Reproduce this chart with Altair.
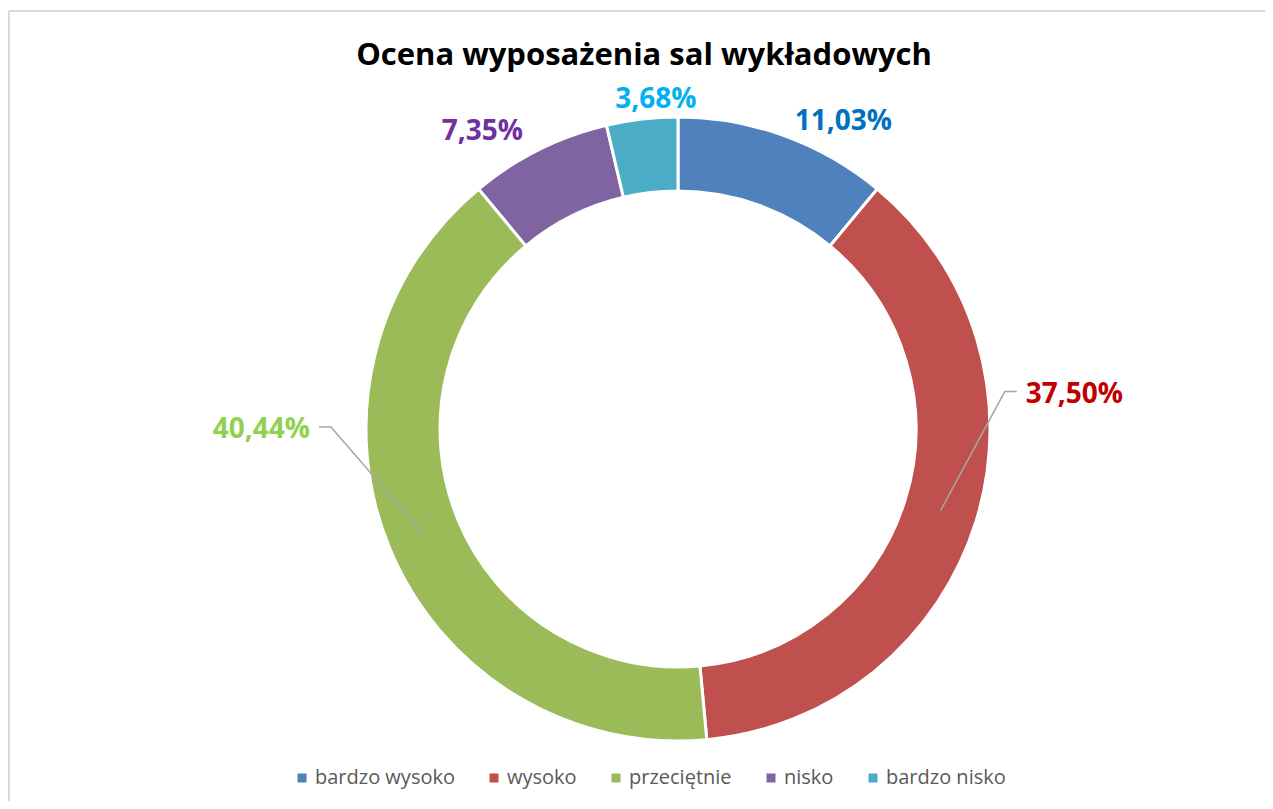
import math
import altair as alt
import pandas as pd

# ---- data ----
categories = ["bardzo wysoko", "wysoko", "przeciętnie", "nisko", "bardzo nisko"]
shares = [11.03, 37.50, 40.44, 7.35, 3.68]
labels = ["11,03%", "37,50%", "40,44%", "7,35%", "3,68%"]
title_text = "Ocena wyposażenia sal wykładowych"

# ---- styles / layout ----
slice_colors = ["#4F81BD", "#C0504D", "#9BBB59", "#8064A2", "#4BACC6"]
label_colors = ["#0070C0", "#C00000", "#92D050", "#7030A0", "#00B0F0"]
W, H = 1257, 793
CX, CY = 670, 421
R_OUT, R_IN = 312, 238
R_LAB = 340
# nudges of each label from the mid-angle point at R_LAB
nudge = {
    "bardzo wysoko": (50, 21, "center"),
    "wysoko": (23, -127, "left"),
    "przeciętnie": (-54, -121, "right"),
    "nisko": (-44, 15, "center"),
    "bardzo nisko": (17, 17, "center"),
}
leader = {"wysoko": -1, "przeciętnie": 1}
FONT = "Open Sans"

df = pd.DataFrame({"cat": categories, "share": shares, "label": labels,
                   "idx": range(len(categories)), "lcolor": label_colors})
tot = sum(shares)
cum = 0.0
mids = []
for s in shares:
    mids.append((cum + s / 2) / tot * 2 * math.pi)
    cum += s
df["mid"] = mids
df["px"] = CX + R_LAB * df["mid"].apply(math.sin)
df["py"] = CY - R_LAB * df["mid"].apply(math.cos)
df["lx"] = [px + nudge[c][0] for px, c in zip(df["px"], df["cat"])]
df["ly"] = [py + nudge[c][1] for py, c in zip(df["py"], df["cat"])]
df["align"] = [nudge[c][2] for c in df["cat"]]

# leader lines
rows = []
for _, r in df.iterrows():
    if r["cat"] in leader:
        sgn = leader[r["cat"]]
        rm = (R_OUT + R_IN) / 2
        x0 = CX + rm * math.sin(r["mid"])
        y0 = CY - rm * math.cos(r["mid"])
        xe = r["lx"] + sgn * 9
        ye = r["ly"] - 11
        xk = xe + sgn * 12
        rows += [dict(cat=r["cat"], o=0, x=x0, y=y0), dict(cat=r["cat"], o=1, x=xk, y=ye),
                 dict(cat=r["cat"], o=2, x=xe, y=ye)]
ldf = pd.DataFrame(rows)

base = alt.Chart(df)

arc = base.mark_arc(outerRadius=R_OUT, innerRadius=R_IN, stroke="white", strokeWidth=3).encode(
    theta=alt.Theta("share:Q", stack=True),
    order=alt.Order("idx:Q"),
    x=alt.value(CX), y=alt.value(CY),
    color=alt.Color("cat:N", sort=categories,
                    scale=alt.Scale(domain=categories, range=slice_colors),
                    legend=alt.Legend(title=None, orient="none", direction="horizontal",
                                      legendX=284, legendY=760, symbolType="square",
                                      symbolSize=81, symbolStrokeWidth=0,
                                      labelFont=FONT, labelFontSize=20, labelColor="#595959",
                                      labelOffset=3, columnPadding=29, symbolOffset=0)),
)

lines = alt.Chart(ldf).mark_line(color="#A6A6A6", strokeWidth=1.5).encode(
    x=alt.X("x:Q", scale=None, axis=None),
    y=alt.Y("y:Q", scale=None, axis=None),
    detail="cat:N", order="o:Q",
)

texts = []
for al in ["left", "center", "right"]:
    texts.append(base.transform_filter(alt.datum.align == al).mark_text(
        font=FONT, fontSize=28, fontWeight="bold", align=al, baseline="alphabetic").encode(
        x=alt.X("lx:Q", scale=None, axis=None),
        y=alt.Y("ly:Q", scale=None, axis=None),
        text="label:N",
        color=alt.Color("lcolor:N", scale=None),
    ))

title = alt.Chart(pd.DataFrame({"t": [title_text]})).mark_text(
    font=FONT, fontSize=31, fontWeight="bold", color="#000000", align="center",
    baseline="alphabetic").encode(x=alt.value(636), y=alt.value(57), text="t:N")

border_top = alt.Chart(pd.DataFrame({"a": [0]})).mark_rule(color="#D9D9D9", strokeWidth=2).encode(
    x=alt.value(1), x2=alt.value(W), y=alt.value(3))
border_left = alt.Chart(pd.DataFrame({"a": [0]})).mark_rule(color="#D9D9D9", strokeWidth=2).encode(
    x=alt.value(1), y=alt.value(3), y2=alt.value(H))

chart = alt.layer(border_top, border_left, arc, lines, *texts, title).properties(
    width=W, height=H, padding=0, autosize=alt.AutoSizeParams(type="none"),
).configure_view(stroke=None)

chart.save("out.html", embed_options={"renderer": "svg", "actions": False})
